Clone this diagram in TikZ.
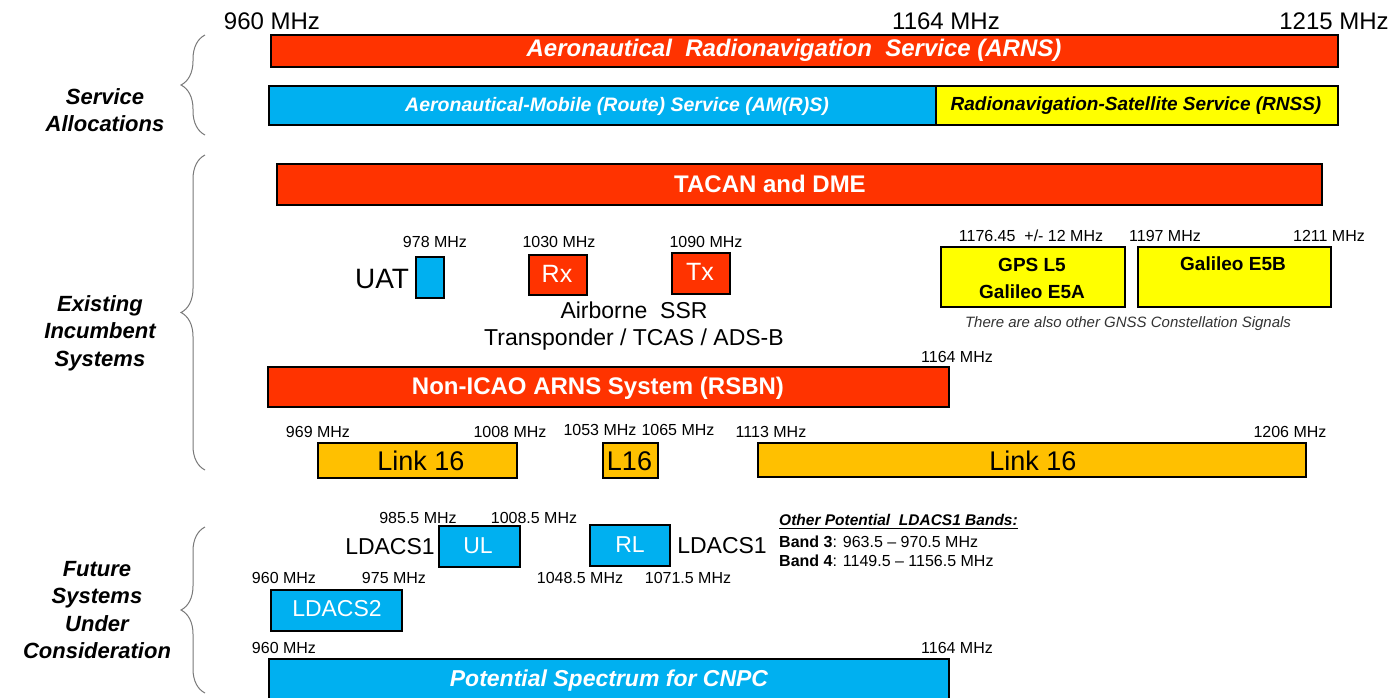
\documentclass[tikz,border=0pt]{standalone}
\usepackage{fontspec}
\setmainfont{Liberation Sans}
\usetikzlibrary{decorations.pathreplacing}
\definecolor{arnsred}{RGB}{255,51,0}
\definecolor{amblue}{RGB}{0,176,240}
\definecolor{rnssyel}{RGB}{255,255,0}
\definecolor{linkorange}{RGB}{255,192,0}
\definecolor{bracegray}{RGB}{120,120,120}
\newcommand\fsz[2]{\fontsize{#1}{#2}\selectfont}
\tikzset{
  band/.style={draw=black, line width=1.5pt, inner sep=0pt, anchor=north west},
  lbl/.style={inner sep=0pt, font=\fsz{16}{19}},
  biglbl/.style={inner sep=0pt, font=\fsz{24}{28}},
  midlbl/.style={inner sep=0pt, font=\fsz{23}{28}},
  group/.style={inner sep=0pt, align=center, font=\fsz{22}{27.5}\bfseries\itshape},
  bandtext/.style={inner sep=0pt, font=\fsz{24}{28}\bfseries, text=white},
  curly/.style={draw=bracegray, line width=1pt, decorate,
    decoration={brace, amplitude=24pt, aspect=0.5}},
}
\begin{document}
\begin{tikzpicture}[x=1pt, y=-1pt]
\useasboundingbox (0,0) rectangle (1395,697);

% ---------- Service allocations ----------
\node[biglbl] (f960) at (272,21) {960 MHz};
\node[biglbl] (f1164) at (946,21) {1164 MHz};
\node[biglbl] (f1215) at (1334,21) {1215 MHz};

\node[band, fill=arnsred, minimum width=1067pt, minimum height=32pt] (arns) at (270,34) {};
\node[bandtext, font=\fsz{24}{28}\bfseries\itshape] (arnst) at (794,50) {Aeronautical\ \ Radionavigation\ \ Service (ARNS)};

\node[band, fill=amblue, minimum width=667pt, minimum height=39pt] (amrs) at (268,85) {};
\node[band, fill=rnssyel, minimum width=402pt, minimum height=39pt] (rnss) at (935,85) {};
\node[bandtext, font=\fsz{19.5}{23}\bfseries\itshape] (amrst) at (617,106) {Aeronautical-Mobile (Route) Service (AM(R)S)};
\node[inner sep=0pt, font=\fsz{19}{23}\bfseries\itshape] (rnsst) at (1136,106) {Radionavigation-Satellite Service (RNSS)};

\node[group] (gsa) at (105,110) {Service\\Allocations};
\draw[curly] (205,135) -- (205,35);

% ---------- Existing incumbent systems ----------
\node[band, fill=arnsred, minimum width=1045pt, minimum height=41pt] (tacan) at (276,163) {};
\node[bandtext] (tacant) at (770,184) {TACAN and DME};

\node[inner sep=0pt, font=\fsz{28}{32}] (uat) at (382,279) {UAT};
\node[band, fill=amblue, minimum width=28pt, minimum height=41pt] (uatb) at (415,256) {};
\node[lbl] (f978) at (435,242) {978 MHz};

\node[band, fill=arnsred, minimum width=58pt, minimum height=40pt] (rx) at (528,254) {};
\node[inner sep=0pt, font=\fsz{25}{28}, text=white] (rxt) at (557,274) {Rx};
\node[lbl] (f1030) at (559,242) {1030 MHz};
\node[band, fill=arnsred, minimum width=58pt, minimum height=41pt] (tx) at (671,252) {};
\node[inner sep=0pt, font=\fsz{25}{28}, text=white] (txt) at (700,272) {Tx};
\node[lbl] (f1090) at (706,242) {1090 MHz};
\node[midlbl] (ssr1) at (634,310) {Airborne\ \ SSR};
\node[midlbl] (ssr2) at (634,340) {Transponder / TCAS / ADS-B};

\node[band, fill=rnssyel, minimum width=184pt, minimum height=60pt] (gps) at (940,246) {};
\node[inner sep=0pt, align=center, font=\fsz{19}{27}\bfseries] (gpst) at (1032,278) {GPS L5\\Galileo E5A};
\node[lbl] (f1176) at (1031,236) {1176.45\ \ +/- 12 MHz};
\node[band, fill=rnssyel, minimum width=193pt, minimum height=60pt] (gal) at (1137,246) {};
\node[inner sep=0pt, font=\fsz{19}{23}\bfseries] (galt) at (1233,264) {Galileo E5B};
\node[lbl] (f1197) at (1165,236) {1197 MHz};
\node[lbl] (f1211) at (1329,236) {1211 MHz};
\node[inner sep=0pt, font=\fsz{15}{18}\itshape, text=black!80] (gnss) at (1128,324) {There are also other GNSS Constellation Signals};

\node[band, fill=arnsred, minimum width=681pt, minimum height=40pt] (rsbn) at (267,366) {};
\node[bandtext] (rsbnt) at (598,388) {Non-ICAO ARNS System (RSBN)};
\node[lbl] (r1164) at (957,357) {1164 MHz};

\node[lbl] (f969) at (318,432) {969 MHz};
\node[lbl] (f1008) at (510,432) {1008 MHz};
\node[lbl] (f1053) at (600,430) {1053 MHz};
\node[lbl] (f1065) at (678,430) {1065 MHz};
\node[lbl] (f1113) at (771,432) {1113 MHz};
\node[lbl] (f1206) at (1290,432) {1206 MHz};
\node[band, fill=linkorange, minimum width=199pt, minimum height=35pt] (lnka) at (317,442) {};
\node[inner sep=0pt, font=\fsz{27}{32}] (lnkat) at (421,461) {Link 16};
\node[band, fill=linkorange, minimum width=55pt, minimum height=35pt] (lnkb) at (602,442) {};
\node[inner sep=0pt, font=\fsz{27}{32}] (lnkbt) at (629.5,461) {L16};
\node[band, fill=linkorange, minimum width=548pt, minimum height=34pt] (lnkc) at (757,442) {};
\node[inner sep=0pt, font=\fsz{27}{32}] (lnkct) at (1033,461) {Link 16};

\node[group] (gexist) at (100,333) {Existing\\Incumbent\\Systems};
\draw[curly] (205,470) -- (205,155);

% ---------- Future systems under consideration ----------
\node[lbl] (f985) at (418,518) {985.5 MHz};
\node[lbl] (f10085) at (534,518) {1008.5 MHz};
\node[midlbl] (ld1a) at (390,547) {LDACS1};
\node[band, fill=amblue, minimum width=81pt, minimum height=41pt] (ul) at (438,525) {};
\node[inner sep=0pt, font=\fsz{23}{28}, text=white] (ult) at (478,546) {UL};
\node[band, fill=amblue, minimum width=80pt, minimum height=41pt] (rl) at (589,524) {};
\node[inner sep=0pt, font=\fsz{23}{28}, text=white] (rlt) at (630,545) {RL};
\node[midlbl] (ld1b) at (722,546) {LDACS1};
\node[lbl] (f10485) at (580,578) {1048.5 MHz};
\node[lbl] (f10715) at (688,578) {1071.5 MHz};

\node[lbl, anchor=west, font=\fsz{15.5}{19}\bfseries\itshape] (oth) at (779,520) {Other Potential\ \ LDACS1 Bands:};
\draw[line width=1.2pt] ([yshift=-2.5pt]oth.south west) -- ([yshift=-2.5pt]oth.south east);
\node[lbl, anchor=west] (b3) at (779,542) {\textbf{Band 3}: 963.5 -- 970.5 MHz};
\node[lbl, anchor=west] (b4) at (779,561) {\textbf{Band 4}: 1149.5 -- 1156.5 MHz};

\node[lbl] (l960) at (284,578) {960 MHz};
\node[lbl] (l975) at (394,578) {975 MHz};
\node[band, fill=amblue, minimum width=131pt, minimum height=41pt] (ld2) at (270,589) {};
\node[inner sep=0pt, font=\fsz{23}{28}, text=white] (ld2t) at (337,609) {LDACS2};

\node[lbl] (c960) at (284,648) {960 MHz};
\node[lbl] (c1164) at (957,648) {1164 MHz};
\node[band, fill=amblue, minimum width=680pt, minimum height=44pt] (cnpc) at (268,658) {};
\node[bandtext, font=\fsz{23}{28}\bfseries\itshape] (cnpct) at (609,681) {Potential Spectrum for CNPC};

\node[group] (gfut) at (97,610) {Future\\Systems\\Under\\Consideration};
\draw[curly] (205,693) -- (205,527);
\end{tikzpicture}
\end{document}
